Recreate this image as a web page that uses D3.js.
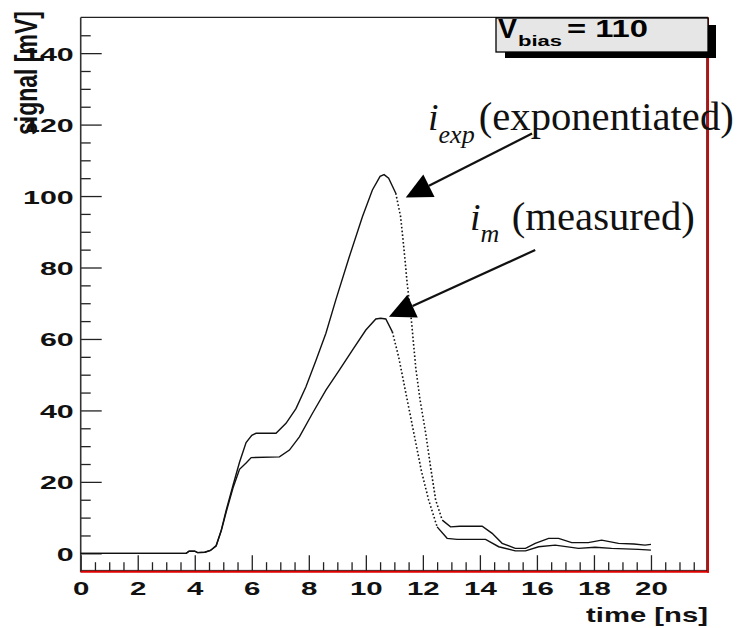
<!DOCTYPE html>
<html>
<head>
<meta charset="utf-8">
<script src="https://cdn.jsdelivr.net/npm/d3@7"></script>
<style>
  html, body { margin: 0; padding: 0; background: #fff; }
  svg { display: block; }
</style>
</head>
<body>
<svg id="chart" width="738" height="628"></svg>
<script>
// ---- data ----
const expTime   = [0, 3.7, 3.8, 4.0, 4.1, 4.35, 4.55, 4.75, 4.93, 5.1, 5.34, 5.57, 5.8, 6.0, 6.15, 6.85, 7.2, 7.55, 7.9, 8.25, 8.6, 8.95, 9.42, 9.88, 10.23, 10.5, 10.64, 10.8, 11.05, 11.22, 11.34, 11.45, 11.6, 11.75, 11.9, 12.1, 12.27, 12.45, 12.68, 12.97, 13.3, 14.08, 14.43, 14.78, 15.24, 15.6, 15.94, 16.41, 16.76, 17.22, 17.8, 18.27, 18.86, 19.4, 19.79, 20.0];
const expValues = [0, 0, 0.6, 0.6, 0.2, 0.3, 0.8, 2.2, 6.5, 12, 19, 25.5, 31, 33, 33.6, 33.6, 36.4, 40.5, 46.6, 54, 61.6, 71, 83, 94.2, 101.7, 105.5, 106, 105, 100.8, 94.2, 85, 75.6, 65, 52, 43, 33.6, 24.2, 14.9, 9.3, 7.4, 7.6, 7.6, 5.6, 2.8, 1.4, 1.4, 2.8, 4.2, 4.2, 3.0, 3.0, 3.7, 2.8, 2.6, 2.3, 2.5];

const measTime   = [0, 3.7, 3.8, 4.0, 4.1, 4.35, 4.55, 4.75, 4.93, 5.1, 5.34, 5.57, 5.8, 5.98, 6.97, 7.32, 7.67, 8.13, 8.6, 9.07, 9.53, 10.0, 10.35, 10.52, 10.7, 10.93, 11.15, 11.35, 11.55, 11.75, 11.95, 12.2, 12.5, 12.85, 13.2, 14.2, 14.66, 15.24, 15.6, 16.06, 16.64, 17.46, 18.04, 18.62, 19.56, 20.0];
const measValues = [0, 0, 0.6, 0.6, 0.2, 0.3, 0.8, 2.0, 6.3, 11.5, 18.3, 23.5, 25.3, 26.8, 27, 28.9, 32.6, 39.2, 45.7, 51.3, 56.9, 62.5, 65.6, 65.8, 65.6, 62, 55, 47, 39, 31, 23, 15, 7.4, 4.2, 3.9, 3.9, 1.85, 0.7, 0.7, 1.85, 2.3, 1.4, 1.7, 1.4, 1.1, 0.9];

const xMajorTicks = [0, 2, 4, 6, 8, 10, 12, 14, 16, 18, 20];
const xMinorTicks = d3.range(0.5, 22, 0.5).filter(v => v % 2 !== 0);
const yMajorTicks = [0, 20, 40, 60, 80, 100, 120, 140];
const yMinorTicks = d3.range(5, 150, 5).filter(v => v % 20 !== 0);

const xLabel = "time [ns]";
const yLabel = "signal [mV]";
const boxMain = "V", boxSub = "bias", boxValue = "= 110";

// annotations (data coordinates)
const annExp  = { textT: 12.18, textV: 118.5, restT: 13.96, restLen: 255, tipT: 11.40, tipV: 99.6, fromT: 15.83, fromV: 117.5, main: "i", sub: "exp", rest: "(exponentiated)" };
const annMeas = { textT: 13.65, textV: 90.5,  restT: 15.12, restLen: 183, tipT: 10.81, tipV: 66.2, fromT: 15.94, fromV: 84.9,  main: "i", sub: "m",   rest: "(measured)" };

// ---- scales ----
const L = 80.7, R = 708, T = 17.4, B = 571.2;
const x = d3.scaleLinear().domain([0, 22]).range([L, R]);
const y = d3.scaleLinear().domain([-5, 150]).range([B, T]);

const svg = d3.select("#chart");
const sans = "'Liberation Sans', Arial, Helvetica, sans-serif";
const serif = "'Liberation Serif', 'Times New Roman', serif";

// ---- axes (ticks point inward) ----
const gxMinor = svg.append("g").attr("transform", `translate(0,${B})`)
  .call(d3.axisBottom(x).tickValues(xMinorTicks).tickSize(-9).tickFormat(""));
const gxMajor = svg.append("g").attr("transform", `translate(0,${B})`)
  .call(d3.axisBottom(x).tickValues(xMajorTicks).tickSize(-16).tickFormat(d3.format("d")));
const gyMinor = svg.append("g").attr("transform", `translate(${L},0)`)
  .call(d3.axisLeft(y).tickValues(yMinorTicks).tickSize(-10).tickFormat(""));
const gyMajor = svg.append("g").attr("transform", `translate(${L},0)`)
  .call(d3.axisLeft(y).tickValues(yMajorTicks).tickSize(-21).tickFormat(d3.format("d")));

[gxMinor, gxMajor, gyMinor, gyMajor].forEach(g => {
  g.select(".domain").remove();
  g.selectAll(".tick line").attr("stroke", "#222").attr("stroke-width", 1.3);
});

gxMajor.selectAll(".tick text")
  .attr("x", 0).attr("y", 0).attr("dy", null)
  .attr("transform", "translate(0,24) scale(1.55,1)")
  .attr("text-anchor", "middle")
  .attr("font-family", sans).attr("font-weight", "bold").attr("font-size", 19)
  .attr("fill", "#111");

gyMajor.selectAll(".tick text")
  .attr("x", 0).attr("y", 0).attr("dy", null)
  .attr("transform", "translate(-7,7) scale(1.6,1)")
  .attr("text-anchor", "end")
  .attr("font-family", sans).attr("font-weight", "bold").attr("font-size", 19)
  .attr("fill", "#111");

// ---- frame ----
svg.append("line").attr("x1", L).attr("x2", L).attr("y1", T).attr("y2", B + 1)
  .attr("stroke", "#333").attr("stroke-width", 1.6);
svg.append("line").attr("x1", L).attr("x2", R).attr("y1", T).attr("y2", T)
  .attr("stroke", "#222").attr("stroke-width", 1.3);
svg.append("line").attr("x1", L).attr("x2", R).attr("y1", B - 0.8).attr("y2", B - 0.8)
  .attr("stroke", "#222").attr("stroke-width", 1);
svg.append("line").attr("x1", L).attr("x2", R + 1).attr("y1", B + 0.6).attr("y2", B + 0.6)
  .attr("stroke", "#e00000").attr("stroke-width", 2);
svg.append("line").attr("x1", R - 1.3).attr("x2", R - 1.3).attr("y1", T).attr("y2", B)
  .attr("stroke", "#222").attr("stroke-width", 1);
svg.append("line").attr("x1", R).attr("x2", R).attr("y1", T).attr("y2", B + 1.6)
  .attr("stroke", "#e00000").attr("stroke-width", 2);

// ---- curves: steep falling edges appear dotted in the original ----
const line = d3.line().x(d => x(d[0])).y(d => y(d[1]));
function drawSeries(times, values) {
  const pts = times.map((t, i) => [t, values[i]]);
  const runs = [];
  for (let i = 1; i < pts.length; i++) {
    const slope = (pts[i][1] - pts[i - 1][1]) / (pts[i][0] - pts[i - 1][0]);
    const dotted = slope < -20;
    const last = runs[runs.length - 1];
    if (last && last.dotted === dotted) last.pts.push(pts[i]);
    else runs.push({ dotted, pts: [pts[i - 1], pts[i]] });
  }
  runs.forEach(r => {
    svg.append("path").datum(r.pts).attr("d", line)
      .attr("fill", "none").attr("stroke", "#111")
      .attr("stroke-width", r.dotted ? 1.6 : 1.4)
      .attr("stroke-dasharray", r.dotted ? "1.6,2.2" : null);
  });
}
drawSeries(expTime, expValues);
drawSeries(measTime, measValues);

// ---- axis titles ----
svg.append("text").attr("x", R).attr("y", 622)
  .attr("text-anchor", "end")
  .attr("font-family", sans).attr("font-weight", "bold").attr("font-size", 21)
  .attr("textLength", 122).attr("lengthAdjust", "spacingAndGlyphs")
  .attr("fill", "#111").text(xLabel);

svg.append("text")
  .attr("transform", "translate(37,73) rotate(-90) scale(1,1.4)")
  .attr("text-anchor", "middle")
  .attr("font-family", sans).attr("font-weight", "bold").attr("font-size", 23)
  .attr("fill", "#111").text(yLabel);

// ---- V_bias box ----
const box = svg.append("g");
box.append("rect").attr("x", 505).attr("y", 25).attr("width", 211).attr("height", 33).attr("fill", "#000");
box.append("rect").attr("x", 496).attr("y", 18).attr("width", 212).attr("height", 34)
  .attr("fill", "#e6e6e6").attr("stroke", "#000").attr("stroke-width", 1.3);
box.append("text").attr("x", 498).attr("y", 38)
  .attr("font-family", sans).attr("font-weight", "bold").attr("font-size", 27)
  .attr("textLength", 19).attr("lengthAdjust", "spacingAndGlyphs").text(boxMain);
box.append("text").attr("x", 518).attr("y", 46)
  .attr("font-family", sans).attr("font-weight", "bold").attr("font-size", 15)
  .attr("textLength", 44).attr("lengthAdjust", "spacingAndGlyphs").text(boxSub);
box.append("text").attr("x", 567).attr("y", 37)
  .attr("font-family", sans).attr("font-weight", "bold").attr("font-size", 24)
  .attr("textLength", 81).attr("lengthAdjust", "spacingAndGlyphs").text(boxValue);

// ---- annotations ----
function annotate(a, subDy) {
  const t = svg.append("text").attr("x", x(a.textT)).attr("y", y(a.textV))
    .attr("font-family", serif).attr("font-size", 38).attr("fill", "#111");
  t.append("tspan").attr("font-style", "italic").text(a.main);
  t.append("tspan").attr("font-style", "italic").attr("font-size", 26).attr("dy", subDy).text(a.sub);
  svg.append("text").attr("x", x(a.restT)).attr("y", y(a.textV))
    .attr("font-family", serif).attr("font-size", 39).attr("fill", "#111")
    .attr("textLength", a.restLen).attr("lengthAdjust", "spacingAndGlyphs")
    .text(a.rest);

  const tip = [x(a.tipT), y(a.tipV)], from = [x(a.fromT), y(a.fromV)];
  const dx = from[0] - tip[0], dy = from[1] - tip[1], len = Math.hypot(dx, dy);
  const ux = dx / len, uy = dy / len, nx = -uy, ny = ux;
  const hl = 26, hw = 12.5;
  const bc = [tip[0] + ux * hl, tip[1] + uy * hl];
  svg.append("line").attr("x1", from[0]).attr("y1", from[1]).attr("x2", bc[0]).attr("y2", bc[1])
    .attr("stroke", "#111").attr("stroke-width", 2.2);
  svg.append("polygon")
    .attr("points", [tip, [bc[0] + nx * hw, bc[1] + ny * hw], [bc[0] - nx * hw, bc[1] - ny * hw]].map(p => p.join(",")).join(" "))
    .attr("fill", "#000");
}
annotate(annExp, 13);
annotate(annMeas, 12);
</script>
</body>
</html>
